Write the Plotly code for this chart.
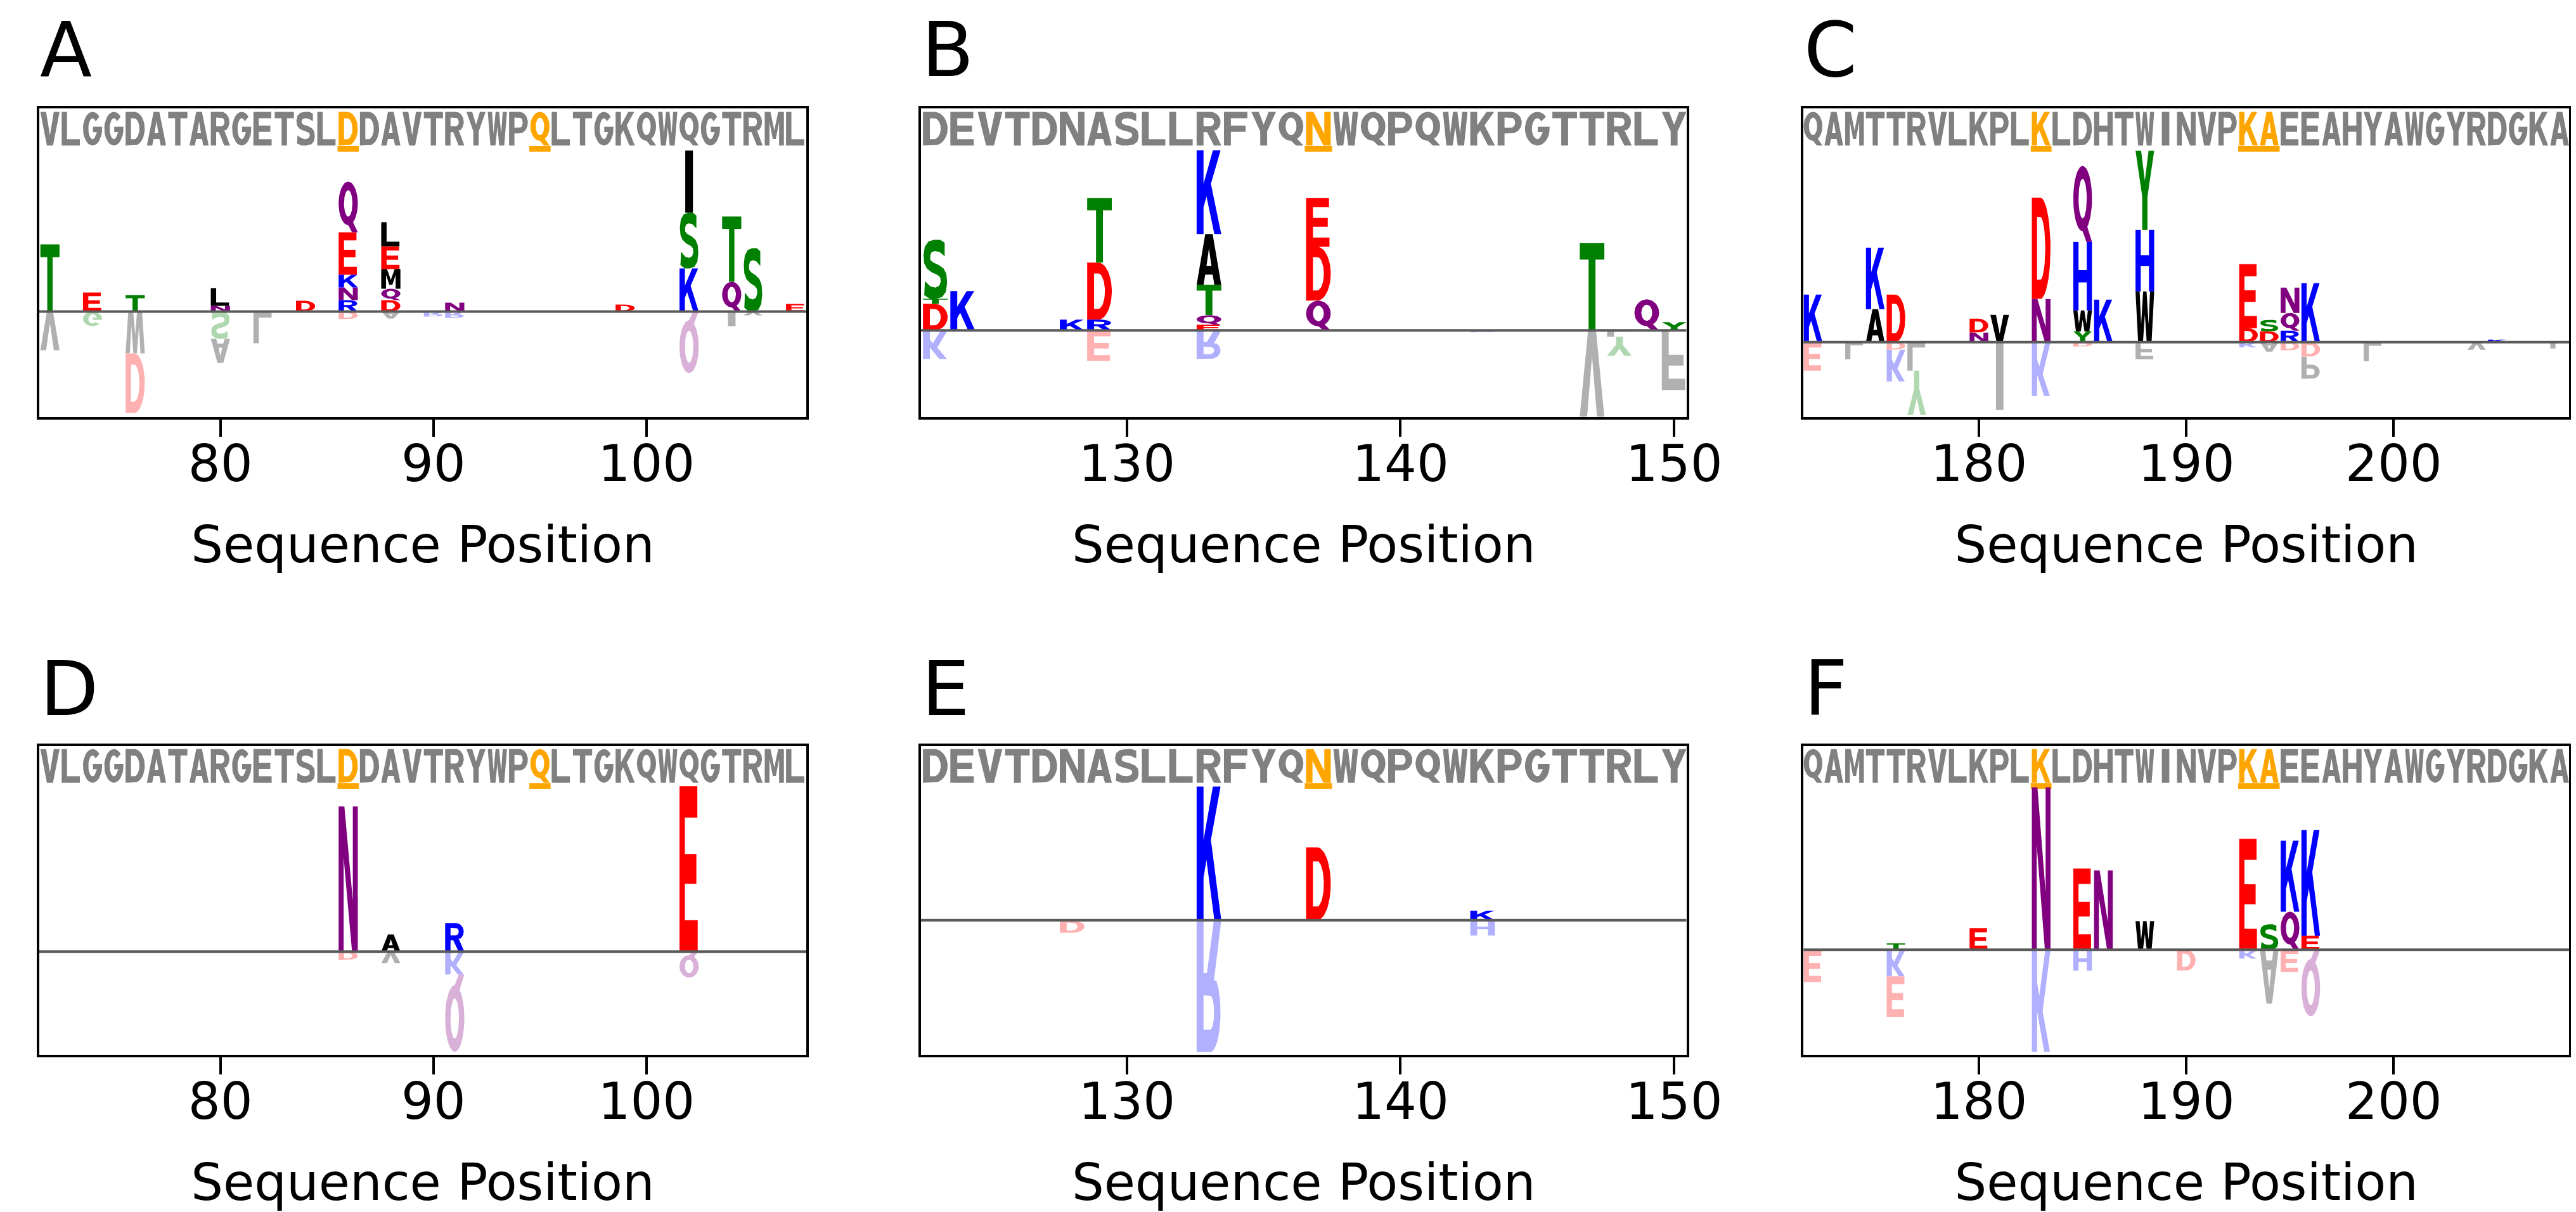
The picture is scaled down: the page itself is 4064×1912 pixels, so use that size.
import numpy as np
import plotly.graph_objects as go

# ------------------------------------------------------------------ data
# reference sequences shown in the grey band (one per column of panels)
seq_left = "VLGGDATARGETSLDDAVTRYWPQLTGKQWQGTRML"
seq_mid = "DEVTDNASLLRFYQNWQPQWKPGTTRLY"
seq_right = "QAMTTRVLKPLKLDHTWINVPKAEEAHYAWGYRDGKA"
start_left, start_mid, start_right = 72, 123, 172
hl_left = [86, 95]
hl_mid = [137]
hl_right = [183, 193, 194]
ticks_left = [80, 90, 100]
ticks_mid = [130, 140, 150]
ticks_right = [180, 190, 200]

# logo letters: position, residue, height (positive = above zero line, negative = below, flipped)
A_pos = [72, 72, 74, 74, 76, 76, 76, 80, 80, 80, 80, 82, 84, 86, 86, 86, 86, 86, 86,
         88, 88, 88, 88, 88, 88, 90, 91, 91, 99, 102, 102, 102, 102, 104, 104, 104, 105, 105, 107]
A_res = ["T", "V", "E", "G", "T", "W", "D", "N", "L", "S", "A", "L", "D", "R", "N", "K", "E", "Q", "D",
         "D", "Q", "M", "E", "L", "A", "R", "N", "R", "D", "K", "S", "I", "Q", "Q", "T", "I", "S", "V", "E"]
A_val = [1.06, -0.61, 0.30, -0.23, 0.26, -0.66, -0.94, 0.09, 0.28, -0.43, -0.38, -0.50, 0.17,
         0.18, 0.20, 0.20, 0.67, 0.80, -0.12, 0.18, 0.18, 0.31, 0.36, 0.38, -0.11, -0.08, 0.14, -0.10,
         0.11, 0.68, 0.88, 0.98, -0.97, 0.47, 1.03, -0.23, 1.00, -0.06, 0.12]

B_pos = [123, 123, 123, 123, 124, 128, 129, 129, 129, 129, 133, 133, 133, 133, 133, 133,
         137, 137, 137, 143, 147, 147, 148, 148, 149, 150, 150]
B_res = ["D", "T", "S", "K", "K", "K", "R", "D", "T", "E", "E", "Q", "T", "A", "K", "R",
         "Q", "D", "E", "R", "T", "V", "L", "Y", "Q", "Y", "F"]
B_val = [0.42, 0.08, 0.93, -0.45, 0.62, 0.17, 0.17, 0.90, 1.02, -0.48, 0.09, 0.15, 0.48, 0.80, 1.32, -0.45,
         0.47, 0.85, 0.77, -0.03, 1.38, -1.36, -0.10, -0.30, 0.49, 0.13, -0.94]

C_pos = [172, 172, 174, 175, 175, 176, 176, 176, 177, 177, 180, 180, 181, 181, 183, 183, 183,
         185, 185, 185, 185, 185, 186, 188, 188, 188, 188, 193, 193, 193, 194, 194, 194,
         195, 195, 195, 195, 196, 196, 196, 199, 204, 205, 208]
C_res = ["K", "E", "L", "A", "K", "D", "D", "K", "L", "Y", "N", "D", "V", "I", "N", "D", "K",
         "Y", "W", "H", "Q", "D", "K", "W", "H", "Y", "F", "D", "E", "K", "D", "S", "A",
         "R", "Q", "N", "D", "K", "D", "P", "L", "V", "K", "L"]
C_val = [0.75, -0.45, -0.27, 0.52, 0.97, 0.75, -0.12, -0.50, -0.45, -0.70, 0.15, 0.22, 0.43, -1.07,
         0.68, 1.60, -0.85, 0.17, 0.33, 1.08, 1.20, -0.07, 0.67, 0.80, 0.97, 1.25, -0.27,
         0.22, 1.01, -0.08, 0.17, 0.18, -0.15, 0.18, 0.28, 0.40, -0.13, 0.93, -0.23, -0.35,
         -0.30, -0.12, 0.04, -0.10]

D_pos = [86, 86, 88, 88, 91, 91, 91, 102, 102]
D_res = ["N", "D", "A", "V", "R", "K", "Q", "E", "Q"]
D_val = [2.29, -0.13, 0.27, -0.18, 0.45, -0.36, -1.22, 2.61, -0.41]

E_pos = [128, 133, 133, 137, 143, 143]
E_res = ["D", "K", "R", "D", "K", "H"]
E_val = [-0.20, 2.11, -2.08, 1.15, 0.15, -0.24]

F_pos = [172, 176, 176, 176, 180, 183, 183, 185, 185, 186, 188, 190, 193, 193, 194, 194,
         195, 195, 195, 196, 196, 196]
F_res = ["E", "T", "K", "E", "E", "N", "K", "E", "H", "N", "W", "D", "E", "K", "S", "A",
         "Q", "K", "E", "E", "K", "Q"]
F_val = [-0.51, 0.10, -0.42, -0.64, 0.34, 2.56, -1.61, 1.28, -0.33, 1.25, 0.45, -0.33, 1.75, -0.14,
         0.40, -0.85, 0.60, 1.12, -0.35, 0.22, 1.67, -1.05]

# ------------------------------------------------------------------ glyph outlines (unit box)
SW, BH = 0.28, 0.19


def arc(cx, cy, rx, ry, a0, a1, n=28):
    t = np.radians(np.linspace(a0, a1, n))
    return [(cx + rx * np.cos(a), cy + ry * np.sin(a)) for a in t]


S_OUT = [(0.88, 0.95), (0.70, 1.0), (0.45, 1.0), (0.22, 0.97), (0.07, 0.88), (0.02, 0.74), (0.05, 0.60),
         (0.16, 0.51), (0.35, 0.45), (0.60, 0.40), (0.70, 0.36), (0.72, 0.29), (0.66, 0.22), (0.50, 0.19),
         (0.30, 0.21), (0.08, 0.30), (0.05, 0.06), (0.28, 0.0), (0.55, 0.0), (0.78, 0.03), (0.93, 0.12),
         (0.98, 0.27), (0.95, 0.42), (0.84, 0.51), (0.65, 0.57), (0.40, 0.62), (0.30, 0.66), (0.29, 0.73),
         (0.35, 0.79), (0.50, 0.81), (0.68, 0.79), (0.88, 0.72)]

GLYPHS = {
    "A": [([(0, 0), (0.28, 0), (0.35, 0.2), (0.65, 0.2), (0.72, 0), (1, 0), (0.65, 1), (0.35, 1)], False),
          ([(0.40, 0.37), (0.60, 0.37), (0.50, 0.72)], True)],
    "C": [(arc(0.5, 0.5, 0.5, 0.5, 45, 315) + arc(0.5, 0.5, 0.5 - SW, 0.5 - BH, 315, 45), False)],
    "D": [([(0, 0), (0.45, 0)] + arc(0.45, 0.5, 0.55, 0.5, -90, 90) + [(0, 1)], False),
          ([(SW, BH), (0.45, BH)] + arc(0.45, 0.5, 0.55 - SW, 0.5 - BH, -90, 90) + [(SW, 1 - BH)], True)],
    "E": [([(0, 0), (0.95, 0), (0.95, 0.19), (0.28, 0.19), (0.28, 0.41), (0.88, 0.41), (0.88, 0.59),
            (0.28, 0.59), (0.28, 0.81), (0.93, 0.81), (0.93, 1), (0, 1)], False)],
    "F": [([(0, 0), (0.28, 0), (0.28, 0.41), (0.88, 0.41), (0.88, 0.59), (0.28, 0.59), (0.28, 0.81),
            (0.95, 0.81), (0.95, 1), (0, 1)], False)],
    "G": [(arc(0.5, 0.5, 0.5, 0.5, 45, 360) + [(1.0, 0.56), (0.52, 0.56), (0.52, 0.40), (0.73, 0.40)]
           + arc(0.5, 0.5, 0.5 - SW, 0.5 - BH, -40, -315), False)],
    "H": [([(0, 0), (0.28, 0), (0.28, 0.41), (0.72, 0.41), (0.72, 0), (1, 0), (1, 1), (0.72, 1),
            (0.72, 0.59), (0.28, 0.59), (0.28, 1), (0, 1)], False)],
    "I": [([(0.3, 0), (0.7, 0), (0.7, 1), (0.3, 1)], False)],
    "K": [([(0, 0), (0.28, 0), (0.28, 0.32), (0.40, 0.45), (0.72, 0), (1.0, 0), (0.58, 0.6), (0.97, 1),
            (0.66, 1), (0.28, 0.6), (0.28, 1), (0, 1)], False)],
    "L": [([(0, 0), (0.95, 0), (0.95, 0.19), (0.28, 0.19), (0.28, 1), (0, 1)], False)],
    "M": [([(0, 0), (0.25, 0), (0.25, 0.7), (0.42, 0.2), (0.58, 0.2), (0.75, 0.7), (0.75, 0), (1, 0),
            (1, 1), (0.7, 1), (0.5, 0.45), (0.3, 1), (0, 1)], False)],
    "N": [([(0, 0), (0.26, 0), (0.26, 0.65), (0.70, 0), (1, 0), (1, 1), (0.74, 1), (0.74, 0.35),
            (0.30, 1), (0, 1)], False)],
    "O": [(arc(0.5, 0.5, 0.5, 0.5, 0, 360, 48), False),
          (arc(0.5, 0.5, 0.5 - SW, 0.5 - BH, 0, 360, 48), True)],
    "P": [([(0, 0), (0.28, 0), (0.28, 0.36), (0.55, 0.36)] + arc(0.55, 0.68, 0.43, 0.32, -90, 90) + [(0, 1)], False),
          ([(0.28, 0.53), (0.55, 0.53)] + arc(0.55, 0.68, 0.16, 0.15, -90, 90) + [(0.28, 0.83)], True)],
    "Q": [(arc(0.5, 0.57, 0.5, 0.43, 0, 360, 48), False),
          (arc(0.5, 0.57, 0.5 - SW, 0.43 - 0.17, 0, 360, 48), True),
          ([(0.42, 0.2), (0.70, 0.0), (1.0, 0.0), (0.70, 0.24)], False)],
    "R": [([(0, 0), (0.28, 0), (0.28, 0.40), (0.42, 0.40), (0.70, 0), (1.0, 0), (0.70, 0.46)]
           + arc(0.55, 0.70, 0.42, 0.30, -55, 90) + [(0, 1)], False),
          ([(0.28, 0.57), (0.55, 0.57)] + arc(0.55, 0.70, 0.16, 0.13, -90, 90) + [(0.28, 0.83)], True)],
    "S": [(S_OUT, False)],
    "T": [([(0.36, 0), (0.64, 0), (0.64, 0.81), (1, 0.81), (1, 1), (0, 1), (0, 0.81), (0.36, 0.81)], False)],
    "V": [([(0, 1), (0.3, 1), (0.5, 0.3), (0.7, 1), (1, 1), (0.66, 0), (0.34, 0)], False)],
    "W": [([(0, 1), (0.22, 1), (0.3, 0.35), (0.41, 1), (0.59, 1), (0.70, 0.35), (0.78, 1), (1, 1),
            (0.86, 0), (0.6, 0), (0.5, 0.55), (0.4, 0), (0.14, 0)], False)],
    "Y": [([(0, 1), (0.3, 1), (0.5, 0.62), (0.7, 1), (1, 1), (0.64, 0.42), (0.64, 0), (0.36, 0),
            (0.36, 0.42)], False)],
}

GROUP = {}
for c in "DE":
    GROUP[c] = "red"
for c in "KRH":
    GROUP[c] = "blue"
for c in "STGYC":
    GROUP[c] = "green"
for c in "NQ":
    GROUP[c] = "purple"
for c in "AVLIPWFM":
    GROUP[c] = "black"
FULL = {"red": "#FF0000", "blue": "#0000FF", "green": "#008000", "purple": "#800080", "black": "#000000"}
LIGHT = {"red": "#FFB0B0", "blue": "#B0B0FF", "green": "#B0D8B0", "purple": "#D8B0D8", "black": "#B0B0B0"}
BAND_GREY = "#808080"
HL_ORANGE = "#FFA500"


def area(xs, ys):
    return 0.5 * sum(xs[i] * ys[(i + 1) % len(xs)] - xs[(i + 1) % len(xs)] * ys[i] for i in range(len(xs)))


def add_glyph(buf, ch, xc, y0, h, flip, w=0.9):
    for pts, hole in GLYPHS[ch]:
        xs = [xc - w / 2 + px * w for px, py in pts]
        ys = [y0 + ((1 - py) if flip else py) * h for px, py in pts]
        if (area(xs, ys) < 0) != hole:
            xs, ys = xs[::-1], ys[::-1]
        buf[0].extend(xs + [xs[0], None])
        buf[1].extend(ys + [ys[0], None])


# ------------------------------------------------------------------ layout geometry
xdom = [[0.013287, 0.311024], [0.355487, 0.652707], [0.69815, 0.99537]]
ydom = [[0.66004, 0.91449], [0.13389, 0.38876]]
xranges = [[71.5, 107.5], [122.47, 150.45], [171.54, 208.46]]
yranges = [[-1.665, 3.20], [-1.367, 3.498], [-1.183, 3.682],
           [-1.628, 3.245], [-2.122, 2.751], [-1.657, 3.216]]
label_top = [1.0, 1 - 1008 / 1912]

panels = [
    ("A", A_pos, A_res, A_val, 0, 0),
    ("B", B_pos, B_res, B_val, 1, 0),
    ("C", C_pos, C_res, C_val, 2, 0),
    ("D", D_pos, D_res, D_val, 0, 1),
    ("E", E_pos, E_res, E_val, 1, 1),
    ("F", F_pos, F_res, F_val, 2, 1),
]
seqs = [seq_left, seq_mid, seq_right]
starts = [start_left, start_mid, start_right]
hls = [hl_left, hl_mid, hl_right]
ticks = [ticks_left, ticks_mid, ticks_right]

fig = go.Figure()
layout = dict(width=4064, height=1912, margin=dict(l=0, r=0, t=0, b=0),
              paper_bgcolor="white", plot_bgcolor="white", showlegend=False,
              font=dict(family="DejaVu Sans", color="black"), template="none", annotations=[])

for i, (label, pos, res, val, col, row) in enumerate(panels):
    xa = "x" if i == 0 else f"x{i + 1}"
    ya = "y" if i == 0 else f"y{i + 1}"
    ymin, ymax = yranges[i]
    xlo, xhi = xranges[col]

    # grey reference sequence band with highlighted residues
    band = ([], [])
    hlb = ([], [])
    bars = ([], [])
    for k, ch in enumerate(seqs[col]):
        p = starts[col] + k
        w = 0.9
        if p in hls[col]:
            add_glyph(hlb, ch, p, ymax - 0.58, 0.53, False, w)
            bx = [p - 0.5, p + 0.5, p + 0.5, p - 0.5, p - 0.5, None]
            by = [ymax - 0.68, ymax - 0.68, ymax - 0.585, ymax - 0.585, ymax - 0.68, None]
            bars[0].extend(bx)
            bars[1].extend(by)
        else:
            add_glyph(band, ch, p, ymax - 0.58, 0.53, False, w)
    for buf, colr in ((bars, HL_ORANGE), (band, BAND_GREY), (hlb, HL_ORANGE)):
        if buf[0]:
            fig.add_trace(go.Scatter(x=buf[0], y=buf[1], mode="lines", fill="toself",
                                     fillcolor=colr, line=dict(width=0, color=colr),
                                     hoverinfo="skip", xaxis=xa, yaxis=ya))

    # logo stacks
    bufs = {}
    up, down = {}, {}
    for p, ch, v in zip(pos, res, val):
        g = GROUP[ch]
        if v >= 0:
            base = up.get(p, 0.0)
            key = FULL[g]
            bufs.setdefault(key, ([], []))
            add_glyph(bufs[key], ch, p, base, v, False)
            up[p] = base + v
        else:
            base = down.get(p, 0.0)
            key = LIGHT[g]
            bufs.setdefault(key, ([], []))
            add_glyph(bufs[key], ch, p, base + v, -v, True)
            down[p] = base + v
    for colr, buf in bufs.items():
        fig.add_trace(go.Scatter(x=buf[0], y=buf[1], mode="lines", fill="toself",
                                 fillcolor=colr, line=dict(width=0, color=colr),
                                 hoverinfo="skip", xaxis=xa, yaxis=ya))

    # zero line
    fig.add_trace(go.Scatter(x=[xlo, xhi], y=[0, 0], mode="lines",
                             line=dict(color="#5a5a5a", width=4), hoverinfo="skip",
                             xaxis=xa, yaxis=ya))

    layout["xaxis" if i == 0 else f"xaxis{i + 1}"] = dict(
        domain=xdom[col], anchor=ya, range=[xlo, xhi], tickvals=ticks[col],
        ticktext=[str(t) for t in ticks[col]], ticks="outside", ticklen=27, tickwidth=4,
        tickcolor="black", showline=True, mirror=True, linecolor="black", linewidth=4,
        showgrid=False, zeroline=False, automargin=False, ticklabelstandoff=-26,
        tickfont=dict(size=80, family="DejaVu Sans", color="black"),
        title=dict(text="Sequence Position", font=dict(size=80, family="DejaVu Sans", color="black"),
                   standoff=55))
    layout["yaxis" if i == 0 else f"yaxis{i + 1}"] = dict(
        domain=ydom[row], anchor=xa, range=[ymin, ymax], showticklabels=False, ticks="",
        showline=True, mirror=True, linecolor="black", linewidth=4, showgrid=False,
        zeroline=False, automargin=False)

    layout["annotations"].append(dict(
        text=label, xref="paper", yref="paper", x=xdom[col][0], y=label_top[row],
        xanchor="left", yanchor="top", showarrow=False, borderpad=0,
        font=dict(size=120, family="DejaVu Sans", color="black")))

fig.update_layout(**layout)
fig.write_html("out.html")
